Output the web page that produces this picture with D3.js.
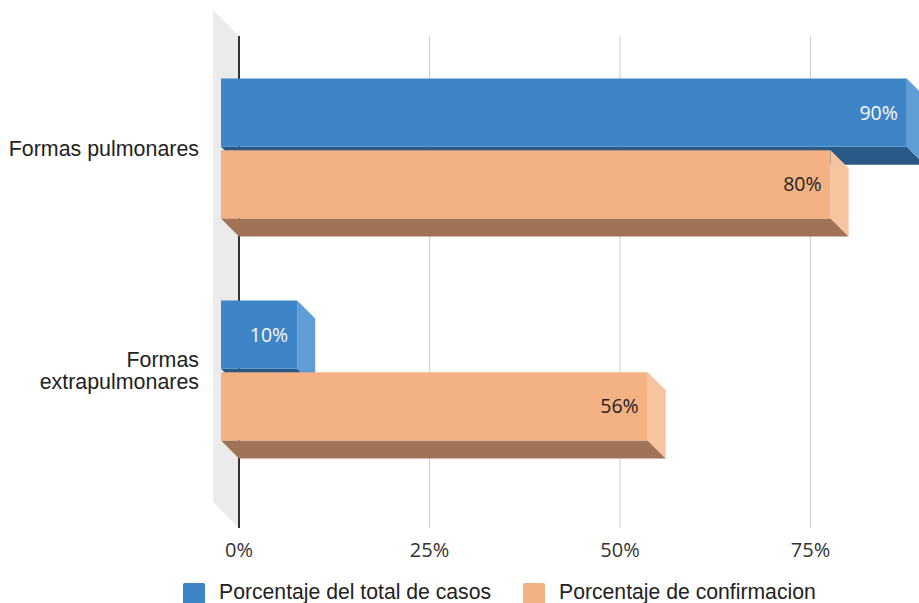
<!DOCTYPE html>
<html>
<head>
<meta charset="utf-8">
<script src="https://cdn.jsdelivr.net/npm/d3@7"></script>
<style>
  html, body { margin: 0; padding: 0; background: #fff; }
  svg { display: block; }
</style>
</head>
<body>
<svg id="chart" width="919" height="603"></svg>
<script>
// ---- data ----
const categories = ["Formas pulmonares", "Formas extrapulmonares"];
const categoryLines = [["Formas pulmonares"], ["Formas", "extrapulmonares"]];
const seriesNames = ["Porcentaje del total de casos", "Porcentaje de confirmacion"];
const totalCasos = [0.90, 0.10];
const confirmacion = [0.80, 0.56];
const tickValues = [0, 0.25, 0.5, 0.75];
const tickLabels = ["0%", "25%", "50%", "75%"];

// ---- style ----
const colors = [
  { front: "#3d85c6", side: "#5f9dd6", bottom: "#2b5987", label: "#f7f9fc" },
  { front: "#f4b183", side: "#f7c4a0", bottom: "#a07357", label: "#222222" }
];
const depth = 18;
const svg = d3.select("#chart");

const x = d3.scaleLinear().domain([0, 1]).range([239, 1001]);
const yTop = 36, yBot = 528;

const yOuter = d3.scaleBand().domain(categories).range([37.5, 481.5]).padding(0);
const yInner = d3.scaleBand().domain(seriesNames).range([-70, 70]).paddingInner(0.05);

// back wall
const wallDepth = 26;
svg.append("path")
  .attr("d", `M${x(0) - wallDepth},${yTop - wallDepth} L${x(0)},${yTop} L${x(0)},${yBot} L${x(0) - wallDepth},${yBot - wallDepth} Z`)
  .attr("fill", "#ebebeb");

// gridlines
svg.append("g").selectAll("line").data(tickValues.filter(t => t > 0)).join("line")
  .attr("x1", d => x(d)).attr("x2", d => x(d))
  .attr("y1", yTop).attr("y2", yBot)
  .attr("stroke", "#cccccc").attr("stroke-width", 1);

// zero line
svg.append("line")
  .attr("x1", x(0)).attr("x2", x(0)).attr("y1", yTop).attr("y2", yBot)
  .attr("stroke", "#333").attr("stroke-width", 2);

// tick labels
svg.append("g").selectAll("text").data(tickValues).join("text")
  .attr("x", d => x(d)).attr("y", 557)
  .attr("text-anchor", "middle")
  .attr("font-family", "'Open Sans', sans-serif").attr("font-size", 20)
  .attr("fill", "#333")
  .text((d, i) => tickLabels[i]);

// bars
const seriesValues = [totalCasos, confirmacion];
const barsG = svg.append("g");
categories.forEach((cat, ci) => {
  seriesNames.forEach((s, si) => {
    const v = seriesValues[si][ci];
    const c = colors[si];
    const y0 = yOuter(cat) + yOuter.bandwidth() / 2 + yInner(s);
    const h = yInner.bandwidth();
    const x0 = x(0) - depth;
    const x1 = x(v) - depth;
    const g = barsG.append("g");
    // bottom face
    g.append("path")
      .attr("d", `M${x0},${y0 + h} L${x1},${y0 + h} L${x1 + depth},${y0 + h + depth} L${x0 + depth},${y0 + h + depth} Z`)
      .attr("fill", c.bottom);
    // side face
    g.append("path")
      .attr("d", `M${x1},${y0} L${x1 + depth},${y0 + depth} L${x1 + depth},${y0 + h + depth} L${x1},${y0 + h} Z`)
      .attr("fill", c.side);
    // front face
    g.append("rect")
      .attr("x", x0).attr("y", y0).attr("width", x1 - x0).attr("height", h)
      .attr("fill", c.front);
    // value label
    g.append("text")
      .attr("x", x1 - 9).attr("y", y0 + h / 2)
      .attr("dy", "0.36em")
      .attr("text-anchor", "end")
      .attr("font-family", "'Open Sans', sans-serif").attr("font-size", 19.5)
      .attr("font-weight", 500)
      .attr("fill", c.label)
      .text(Math.round(v * 100) + "%");
  });
});

// category labels
categories.forEach((cat, ci) => {
  const cy = yOuter(cat) + yOuter.bandwidth() / 2;
  const lines = categoryLines[ci];
  const lh = 22;
  const t = svg.append("text")
    .attr("text-anchor", "end")
    .attr("font-family", "'Liberation Sans', Arial, sans-serif").attr("font-size", 21.4)
    .attr("fill", "#222");
  lines.forEach((ln, li) => {
    t.append("tspan")
      .attr("x", 199)
      .attr("y", cy + 7.5 + (li - (lines.length - 1) / 2) * lh)
      .text(ln);
  });
});

// legend
const legendItems = [{ x: 183, name: seriesNames[0], color: colors[0].front },
                     { x: 523, name: seriesNames[1], color: colors[1].front }];
const lg = svg.append("g");
legendItems.forEach(it => {
  lg.append("rect").attr("x", it.x).attr("y", 583).attr("width", 22).attr("height", 22)
    .attr("rx", 1.5).attr("fill", it.color);
  lg.append("text").attr("x", it.x + 36).attr("y", 598.5)
    .attr("font-family", "'Liberation Sans', Arial, sans-serif").attr("font-size", 21.2)
    .attr("fill", "#222").text(it.name);
});
</script>
</body>
</html>
